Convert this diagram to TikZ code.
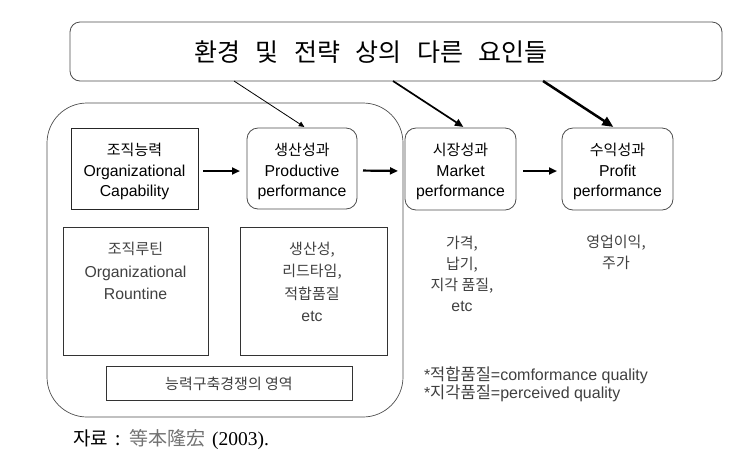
\documentclass[tikz,border=0pt]{standalone}
\usepackage{fontspec}
\setmainfont{Liberation Sans}
\newfontfamily\krf{Noto Sans CJK KR}
\newfontfamily\srf{Liberation Serif}
\usetikzlibrary{arrows.meta}
\newcommand\kr[1]{{\krf\fontsize{15}{15}\selectfont #1}}
\newcommand\krn[1]{{\krf\fontsize{16.5}{16}\selectfont #1}}
\newcommand\bxfont{\fontsize{15.8}{20.5}\selectfont}
\newcommand\lwfont{\fontsize{15.8}{22.3}\selectfont}
\newcommand\wsp{\hspace{15.5pt}}
\begin{document}
\begin{tikzpicture}[x=1pt,y=-1pt,
  every node/.style={inner sep=0pt, outer sep=0pt},
  frame/.style={draw=black!70, line width=0.8pt},
  rbox/.style={frame, rounded corners=11pt},
  sbox/.style={draw=black!85, line width=0.8pt},
  lbox/.style={draw=black!80, line width=0.7pt},
  uptxt/.style={align=center, font=\bxfont},
  lowtxt/.style={align=center, font=\lwfont, text=black!75},
  harrow/.style={line width=2.2pt, -{Triangle[length=8pt,width=7pt]}},
  darrow/.style={-{Triangle[length=#1*3.2pt+3pt,width=#1*2.6pt+3pt]}, line width=#1 pt}
]
\useasboundingbox (0,0) rectangle (736,475);

% top box
\node[frame, rounded corners=10pt, minimum width=652pt, minimum height=59pt] (top) at (396,51.5) {};
\node (title) at (371,52)
  {\krf\fontsize{25}{30}\selectfont 환경\wsp 및\wsp 전략\wsp 상의\wsp 다른\wsp 요인들};

% big region
\node[frame, line width=0.7pt, rounded corners=40pt, minimum width=356pt, minimum height=314pt] (region) at (225,260) {};

% upper row
\node[sbox, minimum width=127pt, minimum height=81pt] (cap) at (134.5,168.5) {};
\node[uptxt] (captxt) at (134.5,171.5) {\kr{조직능력}\\Organizational\\Capability};
\node[rbox, minimum width=110pt, minimum height=81pt] (prod) at (302,168.5) {};
\node[uptxt] (prodtxt) at (302,171.5) {\kr{생산성과}\\Productive\\performance};
\node[rbox, minimum width=111pt, minimum height=82pt] (mkt) at (460.5,169) {};
\node[uptxt] (mkttitle) at (460.5,171.5) {\kr{시장성과}\\Market\\performance};
\node[rbox, minimum width=111pt, minimum height=82pt] (prof) at (617.5,169) {};
\node[uptxt] (proftitle) at (617.5,171.5) {\kr{수익성과}\\Profit\\performance};

% lower boxes
\node[lbox, minimum width=145pt, minimum height=128pt] (rout) at (135.5,291) {};
\node[lowtxt] (routtxt) at (135.5,271) {\kr{조직루틴}\\Organizational\\Rountine};
\node[lbox, minimum width=147pt, minimum height=128pt] (pm) at (313.5,291) {};
\node[lowtxt] (pmtxt) at (312,282) {\kr{생산성,}\\\kr{리드타임,}\\\kr{적합품질}\\etc};
\node[lbox, minimum width=246pt, minimum height=34pt] (area) at (229,383) {};
\node[lowtxt] (areatxt) at (229,383.5) {\kr{능력구축경쟁의 영역}};

% text below market / profit
\node[lowtxt, font=\fontsize{15.8}{21}\selectfont] (mkttxt) at (462,273.5) {\kr{가격,}\\\kr{납기,}\\\kr{지각 품질,}\\etc};
\node[lowtxt, font=\fontsize{15.8}{21}\selectfont] (proftxt) at (616,252.5) {\kr{영업이익,}\\\kr{주가}};

% notes
\node[anchor=west, align=left, font=\fontsize{16}{18}\selectfont, text=black!75] (notes) at (424,384)
  {*\krn{적합품질}=comformance quality\\*\krn{지각품질}=perceived quality};

% source
\node[anchor=west] (src) at (73,440)
  {{\krf\fontsize{19}{20}\selectfont 자료\hspace{8pt}:\hspace{8pt}}{\krf\fontsize{19}{20}\selectfont\color{black!55}等本隆宏}\hspace{7pt}{\srf\fontsize{19.5}{20}\selectfont (2003).}};

% horizontal arrows
\draw[harrow, shorten <=5pt, shorten >=7pt] ([yshift=-2.5pt]cap.east) -- ([yshift=-2.5pt]prod.west);
\draw[harrow, shorten <=6pt, shorten >=7pt] ([yshift=-2pt]prod.east) -- ([yshift=-2pt]mkt.west);
\draw[harrow, shorten <=7pt, shorten >=5pt] ([yshift=-2pt]mkt.east) -- ([yshift=-2pt]prof.west);

% diagonal arrows
\draw[darrow=0.8, shorten >=2pt] ([xshift=-162pt]top.south) -- ([xshift=4pt]prod.north);
\draw[darrow=1.7, shorten >=2pt] ([xshift=-3pt]top.south) -- ([xshift=4.5pt]mkt.north);
\draw[darrow=2.5, shorten >=2pt] ([xshift=147pt]top.south) -- ([xshift=-2.5pt]prof.north);
\end{tikzpicture}
\end{document}
